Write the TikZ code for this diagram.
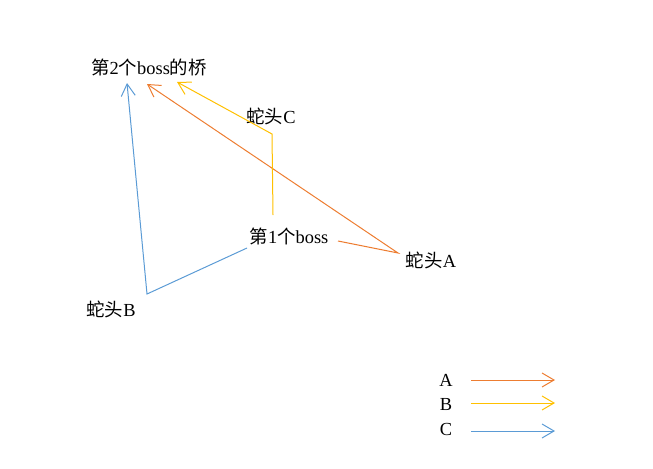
\documentclass[tikz,border=0pt]{standalone}
\usepackage{fontspec}
\setmainfont{Liberation Serif}
\newfontfamily\cjk{Noto Sans CJK SC}
\usepackage{tikz}
\usetikzlibrary{arrows.meta}

\definecolor{pathA}{HTML}{ED7D31}
\definecolor{pathB}{HTML}{FFC000}
\definecolor{pathC}{HTML}{5B9BD5}

\begin{document}
\begin{tikzpicture}[x=0.75pt,y=-0.75pt,
    every node/.style={inner sep=0pt,font=\fontsize{13.8}{15}\selectfont},
    >={Straight Barb[length=9pt,width=10.5pt]},
    link/.style={line width=0.75pt}]
    \useasboundingbox (0,0) rectangle (653,468);
    \node (bridge) at (149,68) {{\cjk 第}2{\cjk 个}boss{\cjk 的桥}};
    \node (headC) at (271,116) {{\cjk 蛇头}C};
    \node (boss1) at (289,236) {{\cjk 第}1{\cjk 个}boss};
    \node (headA) at (431,260) {{\cjk 蛇头}A};
    \node (headB) at (111,309) {{\cjk 蛇头}B};
    \coordinate (startA) at (338,241);
    \coordinate (startB) at (273,215);
    \coordinate (startC) at (247,248);
    \coordinate (bendA) at (398,253);
    \coordinate (bendB) at (272,134);
    \coordinate (bendC) at (147,294);
    \coordinate (tipA) at (147,84);
    \coordinate (tipB) at (177,82);
    \coordinate (tipC) at (127,83);
    \draw[link,pathA,->] (startA) -- (bendA) -- (tipA);
    \draw[link,pathB,->] (startB) -- (bendB) -- (tipB);
    \draw[link,pathC,->] (startC) -- (bendC) -- (tipC);
    % legend
    \node (keyA) at (446,380) {A};
    \node (keyB) at (446,404) {B};
    \node (keyC) at (446,429) {C};
    \draw[link,pathA,->] (471,380) -- (555,380);
    \draw[link,pathB,->] (471,403) -- (555,403);
    \draw[link,pathC,->] (471,431) -- (555,431);
  \end{tikzpicture}
\end{document}
